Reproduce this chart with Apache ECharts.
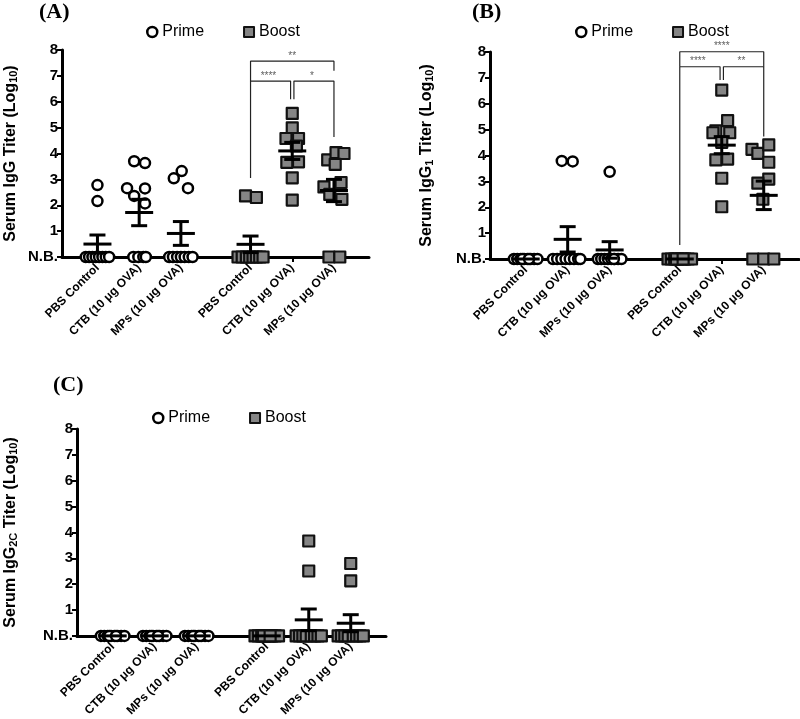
<!DOCTYPE html>
<html>
<head>
<meta charset="utf-8">
<script src="https://cdn.jsdelivr.net/npm/echarts@6/dist/echarts.min.js"></script>
<style>html,body{margin:0;padding:0;background:#fff}#c{width:800px;height:719px}</style>
</head>
<body>
<div id="c"></div>
<script>
// ---------- data ----------
const categories = ['PBS Control', 'CTB (10 μg OVA)', 'MPs (10 μg OVA)', 'PBS Control', 'CTB (10 μg OVA)', 'MPs (10 μg OVA)'];
const yTickLabels = ['N.B.', '1', '2', '3', '4', '5', '6', '7', '8'];
const seriesNames = ['Prime', 'Boost'];
const panelLetters = ['(A)', '(B)', '(C)'];
const yTitles = ['Serum IgG Titer (Log{s|10})', 'Serum IgG{s|1} Titer (Log{s|10})', 'Serum IgG{s|2C} Titer (Log{s|10})'];

// Panel A (IgG) - values per group (log10 titer, 0 = N.B.)
const aPrimePBS = [2.78, 2.16, 0, 0, 0, 0, 0, 0, 0, 0];
const aPrimeCTB = [3.70, 3.63, 2.66, 2.65, 2.36, 2.07, 0, 0, 0, 0];
const aPrimeMPs = [3.32, 3.04, 2.66, 0, 0, 0, 0, 0, 0, 0];
const aBoostPBS = [2.36, 2.30, 0, 0, 0, 0, 0, 0, 0, 0];
const aBoostCTB = [5.55, 4.99, 4.58, 4.58, 4.29, 3.66, 3.68, 3.06, 2.20];
const aBoostMPs = [3.75, 4.03, 4.00, 3.58, 2.71, 2.88, 2.42, 2.23, 0, 0];
const aMean = [0.50, 1.72, 0.91, 0.49, 4.10, 2.57];
const aSem  = [0.35, 0.51, 0.46, 0.32, 0.33, 0.43];

// Panel B (IgG1)
const bPrimePBS = [0, 0, 0, 0, 0, 0, 0, 0, 0, 0];
const bPrimeCTB = [3.79, 3.77, 0, 0, 0, 0, 0, 0, 0, 0];
const bPrimeMPs = [3.37, 0, 0, 0, 0, 0, 0, 0, 0, 0];
const bBoostPBS = [0, 0, 0, 0, 0, 0, 0, 0, 0, 0];
const bBoostCTB = [6.53, 5.35, 4.95, 4.88, 4.88, 4.51, 3.83, 3.86, 3.12, 2.02];
const bBoostMPs = [4.24, 4.08, 4.41, 3.74, 3.09, 2.93, 2.31, 0, 0, 0];
const bMean = [0, 0.76, 0.35, 0, 4.40, 2.46];
const bSem  = [0, 0.49, 0.32, 0, 0.33, 0.55];

// Panel C (IgG2c)
const cPrimePBS = [0, 0, 0, 0, 0, 0, 0, 0, 0, 0];
const cPrimeCTB = [0, 0, 0, 0, 0, 0, 0, 0, 0, 0];
const cPrimeMPs = [0, 0, 0, 0, 0, 0, 0, 0, 0, 0];
const cBoostPBS = [0, 0, 0, 0, 0, 0, 0, 0, 0, 0];
const cBoostCTB = [3.67, 2.51, 0, 0, 0, 0, 0, 0, 0, 0];
const cBoostMPs = [2.80, 2.13, 0, 0, 0, 0, 0, 0, 0, 0];
const cMean = [0, 0, 0, 0, 0.62, 0.49];
const cSem  = [0, 0, 0, 0, 0.42, 0.33];

// significance brackets: [fromGroup, toGroup, barLevel, leftEnd, rightEnd, label]
const aBrackets = [[3, 4, 6.8, 3.05, 6.1, '****'], [4, 5, 6.8, 6.1, 4.64, '*'], [3, 5, 7.57, 6.8, 7.2, '**']];
const bBrackets = [[3, 4, 7.43, 0.54, 6.92, '****'], [4, 5, 7.43, 6.92, 4.73, '**'], [3, 5, 8.01, 7.43, 7.43, '****']];
const cBrackets = [];

// jitter (horizontal spread of points, in group-width units)
const jit10 = [-0.28, -0.2, -0.12, -0.04, 0.04, 0.12, 0.2, 0.28, -0.08, 0.08];
const aJit = [
  [0, 0, -0.28, -0.2, -0.12, -0.04, 0.04, 0.12, 0.2, 0.28],
  [-0.12, 0.14, -0.29, 0.14, -0.12, 0.14, -0.14, -0.02, 0.1, 0.16],
  [0.02, -0.17, 0.17, -0.28, -0.19, -0.09, 0, 0.09, 0.19, 0.28],
  [-0.12, 0.14, -0.3, -0.2, -0.1, -0.02, 0.06, 0.14, 0.22, 0.3],
  [0, 0, -0.15, 0.15, 0.1, -0.13, 0.15, 0, 0],
  [-0.15, 0.05, 0.24, 0.03, -0.24, 0.17, -0.1, 0.19, -0.12, 0.14]
];
const bJit = [
  jit10,
  [-0.14, 0.12, -0.35, -0.25, -0.15, -0.05, 0.05, 0.15, 0.25, 0.3],
  [0, -0.28, -0.2, -0.12, -0.04, 0.04, 0.12, 0.2, 0.28, 0.1],
  jit10,
  [0, 0.14, -0.14, -0.21, 0.19, 0, -0.14, 0.14, 0, 0],
  [-0.28, -0.14, 0.12, 0.12, 0.12, -0.14, -0.02, -0.26, 0, 0.24]
];
const cJit = [
  jit10, jit10, jit10, jit10,
  [0, 0, -0.3, -0.22, -0.14, -0.06, 0.06, 0.14, 0.22, 0.3],
  [0, 0, -0.3, -0.22, -0.14, -0.06, 0.06, 0.14, 0.22, 0.3]
];

// ---------- layout ----------
const XPOS = [0.85, 1.85, 2.85, 4.52, 5.52, 6.52];
const XMAX = 7.36;
const FONT = '"Liberation Sans", Arial, sans-serif';
const grids = [
  {left: 60, top: 50, width: 309, height: 207},
  {left: 490, top: 52, width: 309, height: 207},
  {left: 77, top: 429, width: 309, height: 208}
];
const nameGaps = [43, 55, 58];
const legendPos = [{left: 141, top: 19}, {left: 570, top: 19}, {left: 147, top: 405}];
const letterPos = [{left: 39, top: 1}, {left: 472, top: 1}, {left: 53, top: 374}];

const panels = [
  {groups: [aPrimePBS, aPrimeCTB, aPrimeMPs, aBoostPBS, aBoostCTB, aBoostMPs], jit: aJit, mean: aMean, sem: aSem, brackets: aBrackets},
  {groups: [bPrimePBS, bPrimeCTB, bPrimeMPs, bBoostPBS, bBoostCTB, bBoostMPs], jit: bJit, mean: bMean, sem: bSem, brackets: bBrackets},
  {groups: [cPrimePBS, cPrimeCTB, cPrimeMPs, cBoostPBS, cBoostCTB, cBoostMPs], jit: cJit, mean: cMean, sem: cSem, brackets: cBrackets}
];

function labelFor(v) {
  let best = 0, d = 1e9;
  XPOS.forEach((p, i) => { if (Math.abs(p - v) < d) { d = Math.abs(p - v); best = i; } });
  return categories[best];
}

const xAxes = [], yAxes = [], series = [], legends = [], graphics = [];
panels.forEach((P, p) => {
  xAxes.push({
    type: 'value', gridIndex: p, min: 0, max: XMAX,
    splitLine: {show: false},
    axisLine: {onZero: false, lineStyle: {color: '#000', width: 3}},
    axisTick: {show: true, customValues: XPOS, length: 5, lineStyle: {color: '#000', width: 2}},
    axisLabel: {customValues: XPOS, formatter: labelFor, rotate: 45, margin: 9,
      fontFamily: FONT, fontWeight: 'bold', fontSize: 12, color: '#000'}
  });
  yAxes.push({
    type: 'value', gridIndex: p, min: 0, max: 8, interval: 1,
    splitLine: {show: false},
    axisLine: {show: true, onZero: false, lineStyle: {color: '#000', width: 3}},
    axisTick: {show: true, length: 5, lineStyle: {color: '#000', width: 2}},
    axisLabel: {formatter: v => yTickLabels[v], fontFamily: FONT, fontWeight: 'bold', fontSize: 15, color: '#000', margin: 4},
    name: yTitles[p], nameLocation: 'middle', nameGap: nameGaps[p], nameRotate: 90,
    nameTextStyle: {fontFamily: FONT, fontWeight: 'bold', fontSize: 16, color: '#000', lineHeight: 16,
      rich: {s: {fontFamily: FONT, fontWeight: 'bold', fontSize: 11, lineHeight: 11, padding: [7, 0, 0, 0], verticalAlign: 'bottom', color: '#000'}}}
  });
  const primeData = [], boostData = [];
  P.groups.forEach((vals, g) => {
    vals.forEach((v, k) => {
      const pt = [XPOS[g] + P.jit[g][k], v];
      (g < 3 ? primeData : boostData).push(pt);
    });
  });
  series.push({
    name: seriesNames[0], type: 'scatter', xAxisIndex: p, yAxisIndex: p, data: primeData, clip: false,
    symbol: 'circle', symbolSize: 10, z: 3,
    itemStyle: {color: '#fff', borderColor: '#000', borderWidth: 2.5, opacity: 1}
  });
  series.push({
    name: seriesNames[1], type: 'scatter', xAxisIndex: p, yAxisIndex: p, data: boostData, clip: false,
    symbol: 'rect', symbolSize: 11, z: 3,
    itemStyle: {color: '#858585', borderColor: '#111', borderWidth: 2.2, borderJoin: 'round', opacity: 1}
  });
  series.push({
    type: 'custom', xAxisIndex: p, yAxisIndex: p, z: 5, clip: false, silent: true,
    data: XPOS.map((x, g) => [x, P.mean[g], P.sem[g]]),
    encode: {x: 0, y: 1},
    renderItem: (params, api) => {
      const x = api.value(0), m = api.value(1), s = api.value(2);
      const c = api.coord([x, m]);
      const st = {stroke: '#000', lineWidth: 3, fill: null};
      const children = [{type: 'line', shape: {x1: c[0] - 14, y1: c[1], x2: c[0] + 14, y2: c[1]}, style: st}];
      if (s > 0) {
        const hi = api.coord([x, m + s]), lo = api.coord([x, Math.max(0, m - s)]);
        children.push({type: 'line', shape: {x1: c[0], y1: hi[1], x2: c[0], y2: lo[1]}, style: st});
        children.push({type: 'line', shape: {x1: c[0] - 8, y1: hi[1], x2: c[0] + 8, y2: hi[1]}, style: st});
        children.push({type: 'line', shape: {x1: c[0] - 8, y1: lo[1], x2: c[0] + 8, y2: lo[1]}, style: st});
      }
      return {type: 'group', children};
    }
  });
  const labelData = [];
  P.brackets.forEach((b) => {
    const inner = (b[1] - b[0]) === 1;
    const x1 = XPOS[b[0]] + (inner && b[0] === 4 ? 0.04 : 0);
    const x2 = XPOS[b[1]] - (inner && b[1] === 4 ? 0.04 : 0);
    series.push({
      type: 'line', xAxisIndex: p, yAxisIndex: p, clip: false, silent: true, symbol: 'none', z: 2,
      lineStyle: {color: '#222', width: 1.2},
      data: [[x1, b[3]], [x1, b[2]], [x2, b[2]], [x2, b[4]]]
    });
    labelData.push([(x1 + x2) / 2 - (inner ? 0.05 : 0), b[2] + 0.2, b[5]]);
  });
  if (labelData.length) {
    series.push({
      type: 'scatter', xAxisIndex: p, yAxisIndex: p, clip: false, silent: true, symbolSize: 0,
      data: labelData,
      label: {show: true, position: 'inside', formatter: d => d.value[2], fontFamily: FONT, fontSize: 10, color: '#333'}
    });
  }
  legends.push({
    left: legendPos[p].left, top: legendPos[p].top, itemGap: 39, itemWidth: 10, itemHeight: 10,
    selectedMode: false,
    textStyle: {fontFamily: FONT, fontSize: 16, color: '#000'},
    data: [
      {name: 'Prime', icon: 'circle', itemStyle: {color: '#fff', borderColor: '#000', borderWidth: 2.5}},
      {name: 'Boost', icon: 'rect', itemStyle: {color: '#858585', borderColor: '#111', borderWidth: 2}}
    ]
  });
  graphics.push({
    type: 'text', left: letterPos[p].left, top: letterPos[p].top,
    style: {text: panelLetters[p], font: 'bold 22px "Liberation Serif", "Times New Roman", serif', fill: '#000'}
  });
});

const chart = echarts.init(document.getElementById('c'), null, {renderer: 'canvas'});
chart.setOption({
  animation: false,
  backgroundColor: '#fff',
  grid: grids.map(g => Object.assign({containLabel: false}, g)),
  xAxis: xAxes,
  yAxis: yAxes,
  legend: legends,
  graphic: graphics,
  series: series
});
</script>
</body>
</html>
